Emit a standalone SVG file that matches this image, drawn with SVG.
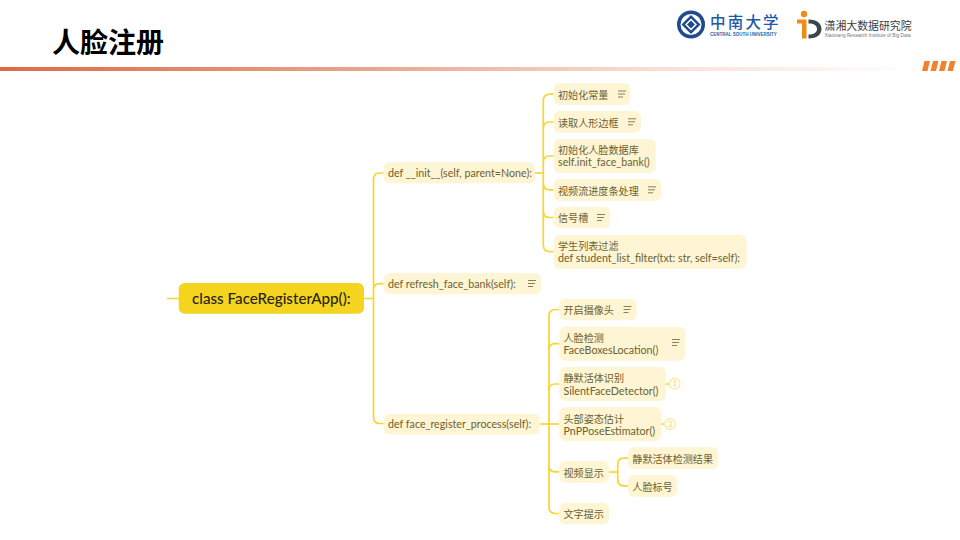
<svg xmlns="http://www.w3.org/2000/svg" width="960" height="540" viewBox="0 0 960 540">
<style>
text{font-family:"Lato","Noto Sans CJK SC",sans-serif}
.n{fill:#fdf5d3}
.t{font-size:10.7px;fill:#6d6130}
.z{font-size:10.1px;fill:#6d6130}
.c{fill:none;stroke:#f7d533;stroke-width:1.7}
.i{stroke:#8a7f55;stroke-width:1;fill:none}
.b{fill:#fff;stroke:#fbe78f;stroke-width:1.2}
.bt{font-size:7px;fill:#e9cf62;text-anchor:middle}
</style>
<defs>
<linearGradient id="bar" x1="0" x2="1" y1="0" y2="0">
<stop offset="0" stop-color="#de6b41"/><stop offset=".42" stop-color="#eaa890"/><stop offset=".72" stop-color="#f8dfd5"/><stop offset="1" stop-color="#fff"/>
</linearGradient>
<path id="note" d="M0 0H8M0 3H7M0 6H5" class="i"/>
</defs>
<rect width="960" height="540" fill="#fff"/>
<g id="header">
<text x="52" y="52.500" font-size="28" font-weight="700" fill="#000" style="font-family:'Noto Sans CJK SC',sans-serif">人脸注册</text>
<rect x="0" y="67" width="915" height="4" fill="url(#bar)"/>
<g fill="#f0822d">
<path d="M922 71L924.500 61H930L927.500 71Z"/><path d="M930.500 71L933 61H938.500L936 71Z"/><path d="M939 71L941.500 61H947L944.500 71Z"/><path d="M947.500 71L950 61H955.500L953 71Z"/>
</g>
</g>
<g id="logo-csu">
<circle cx="691" cy="24.500" r="14" fill="#1f4a8c"/>
<circle cx="691" cy="24.500" r="10.500" fill="#fff"/>
<path d="M691 15L700.500 24.500L691 34L681.500 24.500Z" fill="#1f4a8c"/>
<path d="M691 19.500L696 24.500L691 29.500L686 24.500Z" fill="none" stroke="#fff" stroke-width="1.500"/>
<text x="710" y="27.500" font-size="15.500" fill="#1c5aa6" font-weight="500" style="font-family:'Noto Sans CJK SC',sans-serif;letter-spacing:2.200px">中南大学</text>
<text x="710" y="36.300" font-size="4.500" font-weight="700" fill="#2a62a8" style="font-family:'Liberation Sans',sans-serif">CENTRAL SOUTH UNIVERSITY</text>
</g>
<g id="logo-id">
<circle cx="804" cy="14" r="3.200" fill="#f28a1a"/>
<path d="M797 19.500H806.500V38.500H802V23.500H797Z" fill="#f28a1a"/>
<path d="M808.500 19.500C817 19.500 821.500 23.500 821.500 29C821.500 34.500 817 38.500 808.500 38.500V34.500C814 34.500 817 32.500 817 29C817 25.500 814 23.500 808.500 23.500Z" fill="#3a4550"/>
<text x="824.500" y="30" font-size="10.900" fill="#3b3b3b" style="font-family:'Noto Sans CJK SC',sans-serif">潇湘大数据研究院</text>
<text x="824.500" y="37.300" font-size="4.800" fill="#777" style="font-family:'Liberation Sans',sans-serif">Xiaoxiang Research Institute of Big Data</text>
</g>
<g id="connectors">
<path class="c" d="M167 298.500H179M364 298.500H373.500"/>
<path class="c" d="M383.700 173H380Q373.500 173 373.500 179.500V417Q373.500 423.500 380 423.500H383.700M373.500 290Q373.500 283.700 380 283.700H383.700"/>
<path class="c" d="M535 173H543.300"/>
<path class="c" d="M553.700 94.200H550Q543.300 94.200 543.300 101V245Q543.300 251.700 550 251.700H553.700"/>
<path class="c" d="M543.300 128Q543.300 122 549.500 122H553.700M543.300 162Q543.300 156 549.500 156H553.700M543.300 183.500Q543.300 189.800 549.500 189.800H553.700M543.300 211Q543.300 217.500 549.500 217.500H553.700"/>
<path class="c" d="M540.300 424H559.300"/>
<path class="c" d="M559.300 309.500H555.500Q549 309.500 549 316V507Q549 513.500 555.500 513.500H559.300"/>
<path class="c" d="M549 350Q549 343.700 555 343.700H559.300M549 390Q549 384 555 384H559.300M549 465.500Q549 471.800 555 471.800H559.300"/>
<path class="c" d="M609 472H617.700"/>
<path class="c" d="M628 458.200H624Q617.700 458.200 617.700 464.500V479.500Q617.700 485.800 624 485.800H628"/>
<path class="c" d="M666 384H669.200M661.300 424H664.500"/>
</g>
<g id="root"><rect x="178.700" y="283" width="185.300" height="30.700" rx="6" fill="#f4d41f"/><text x="192" y="303.500" font-size="15.200" font-weight="500" fill="#2a2410">class FaceRegisterApp():</text></g>
<g id="n-init"><rect class="n" x="383.700" y="162.300" width="151.300" height="21" rx="6"/><text class="t" x="388" y="176.800">def __init__(self, parent=None):</text></g>
<g id="n-refresh"><rect class="n" x="383.700" y="273.300" width="157.300" height="21" rx="6"/><text class="t" x="388" y="287.800">def refresh_face_bank(self):</text><use href="#note" x="528" y="280.500"/></g>
<g id="n-process"><rect class="n" x="383.700" y="413.700" width="156.600" height="20.800" rx="6"/><text class="t" x="388" y="428">def face_register_process(self):</text></g>
<g id="a1"><rect class="n" x="553.700" y="83.300" width="76.600" height="21.700" rx="6"/><text class="z" x="558" y="98.800">初始化常量</text><use href="#note" x="618" y="91"/></g>
<g id="a2"><rect class="n" x="553.700" y="111" width="87.300" height="21.700" rx="6"/><text class="z" x="558" y="126.500">读取人形边框</text><use href="#note" x="628" y="118.800"/></g>
<g id="a3"><rect class="n" x="553.700" y="139" width="102" height="34" rx="6"/><text class="z" x="558" y="154">初始化人脸数据库</text><text class="t" x="558" y="166">self.init_face_bank()</text></g>
<g id="a4"><rect class="n" x="553.700" y="179" width="107.600" height="21.700" rx="6"/><text class="z" x="558" y="194.500">视频流进度条处理</text><use href="#note" x="648" y="186.800"/></g>
<g id="a5"><rect class="n" x="553.700" y="206.700" width="56.600" height="21.600" rx="6"/><text class="z" x="558" y="222">信号槽</text><use href="#note" x="597" y="214.500"/></g>
<g id="a6"><rect class="n" x="553.700" y="234.700" width="193" height="34" rx="6"/><text class="z" x="558" y="250">学生列表过滤</text><text class="t" x="558" y="262">def student_list_filter(txt: str, self=self):</text></g>
<g id="b1"><rect class="n" x="559.300" y="298.700" width="77.400" height="21.600" rx="6"/><text class="z" x="563.500" y="314">开启摄像头</text><use href="#note" x="623.500" y="306.500"/></g>
<g id="b2"><rect class="n" x="559.300" y="326.700" width="126" height="34" rx="6"/><text class="z" x="563.500" y="342">人脸检测</text><text class="t" x="563.500" y="354">FaceBoxesLocation()</text><use href="#note" x="672" y="339.500"/></g>
<g id="b3"><rect class="n" x="559.300" y="367" width="106.700" height="34" rx="6"/><text class="z" x="563.500" y="382">静默活体识别</text><text class="t" x="563.500" y="394.500">SilentFaceDetector()</text></g>
<g id="b3-badge"><circle class="b" cx="674.700" cy="383.700" r="5.300"/><text class="bt" x="674.700" y="386.200">1</text></g>
<g id="b4"><rect class="n" x="559.300" y="407" width="102" height="34" rx="6"/><text class="z" x="563.500" y="422.500">头部姿态估计</text><text class="t" x="563.500" y="434.500">PnPPoseEstimator()</text></g>
<g id="b4-badge"><circle class="b" cx="670" cy="424" r="5.300"/><text class="bt" x="670" y="426.500">3</text></g>
<g id="b5"><rect class="n" x="559.300" y="461" width="49.700" height="21.700" rx="6"/><text class="z" x="563.500" y="476.500">视频显示</text></g>
<g id="b6"><rect class="n" x="559.300" y="502.700" width="49.700" height="21.600" rx="6"/><text class="z" x="563.500" y="518">文字提示</text></g>
<g id="c1"><rect class="n" x="628" y="447.300" width="90.300" height="21.700" rx="6"/><text class="z" x="632.300" y="462.500">静默活体检测结果</text></g>
<g id="c2"><rect class="n" x="628" y="475" width="49.300" height="21.700" rx="6"/><text class="z" x="632.300" y="490.500">人脸标号</text></g>
</svg>
